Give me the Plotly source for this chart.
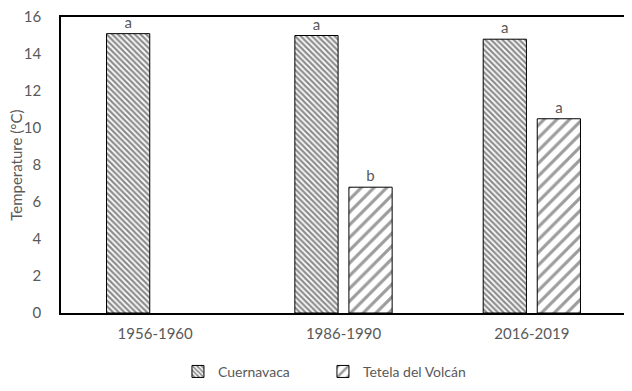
import plotly.graph_objects as go

periods = ["1956-1960", "1986-1990", "2016-2019"]
cuernavaca = [15.1, 15.0, 14.8]
cuernavaca_letters = ["a", "a", "a"]
tetela = [None, 6.8, 10.5]
tetela_letters = ["", "b", "a"]
y_ticks = [0, 2, 4, 6, 8, 10, 12, 14, 16]

FONT = "Lato"
GRAY = "#595959"

fig = go.Figure()
fig.add_trace(go.Bar(
    name="Cuernavaca", x=periods, y=cuernavaca,
    text=cuernavaca_letters, textposition="outside", constraintext="none",
    textfont=dict(family=FONT, size=15, color=GRAY),
    marker=dict(color="white", line=dict(color="black", width=1),
                pattern=dict(shape="\\", fgcolor="#1a1a1a", bgcolor="white",
                             size=4, solidity=0.55)),
    cliponaxis=False,
))
fig.add_trace(go.Bar(
    name="Tetela del Volcán", x=periods, y=tetela,
    text=tetela_letters, textposition="outside", constraintext="none",
    textfont=dict(family=FONT, size=15, color=GRAY),
    marker=dict(color="white", line=dict(color="black", width=1),
                pattern=dict(shape="/", fgcolor="#3a3a3a", bgcolor="white",
                             size=9, solidity=0.35)),
    cliponaxis=False,
))

# page body has an 8px default margin, so the figure is drawn 8px smaller
fig.update_layout(
    width=624, height=383,
    margin=dict(l=53, r=6, t=9, b=78, autoexpand=False),
    paper_bgcolor="white", plot_bgcolor="white",
    barmode="group", bargap=0.426, bargroupgap=0.2,
    font=dict(family=FONT, size=15, color=GRAY),
    showlegend=True,
    legend=dict(orientation="h", x=0.207, xanchor="left",
                yref="container", y=0.05, yanchor="middle",
                itemwidth=30, entrywidth=100, entrywidthmode="pixels",
                font=dict(family=FONT, size=14, color=GRAY), traceorder="normal"),
    annotations=[dict(text="Temperature (°C)", textangle=-90, xref="paper", yref="paper",
                      x=-0.08, y=0.5, xanchor="center", yanchor="middle", showarrow=False,
                      font=dict(family=FONT, size=15, color=GRAY))],
)
fig.update_xaxes(showline=True, linecolor="black", linewidth=1.5, mirror=True,
                 ticks="", showgrid=False, ticklabelstandoff=6, automargin=False,
                 ticklabeloverflow="allow",
                 tickfont=dict(family=FONT, size=15, color=GRAY))
fig.update_yaxes(range=[0, 16], tickvals=y_ticks, showline=True, linecolor="black",
                 linewidth=1.5, mirror=True, ticks="", showgrid=False, zeroline=False,
                 ticklabelstandoff=15, automargin=False, ticklabeloverflow="allow",
                 tickfont=dict(family=FONT, size=15, color=GRAY))

fig.write_html("out.html")
